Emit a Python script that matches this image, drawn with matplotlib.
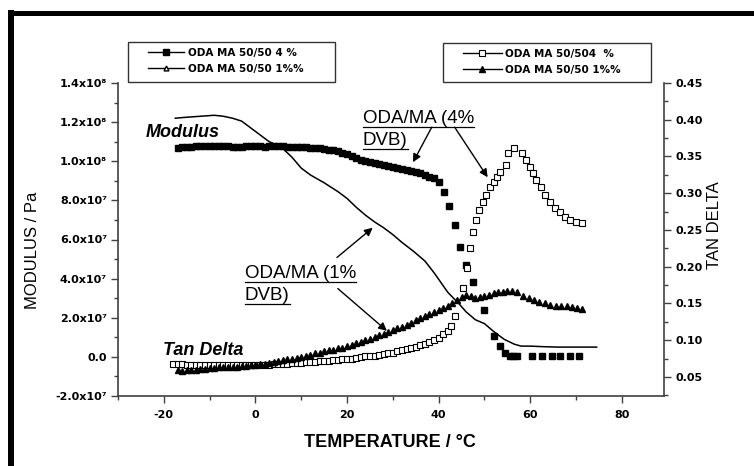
import matplotlib
matplotlib.use("Agg")
import matplotlib.pyplot as plt
from matplotlib.lines import Line2D
from matplotlib.patches import Rectangle
from matplotlib.ticker import MultipleLocator
import numpy as np

# ---- data (temperature in degC) ----
# storage modulus, 4% DVB (filled squares), values in units of 1e7 Pa
mod4_T = [-17, -16, -15, -14, -13, -12, -11, -10, -9, -8, -7, -6, -5, -4, -3, -2, -1,
          0, 1, 2, 3, 4, 5, 6, 7, 8, 9, 10, 11, 12, 13, 14, 15, 16, 17, 18, 19, 20,
          21, 22, 23, 24, 25, 26, 27, 28, 29, 30, 31, 32, 33, 34, 35, 36, 37, 38, 39, 40,
          41.1, 42.2, 43.6, 44.7, 46.0, 47.5, 49.9, 52.1, 53.4, 54.5, 55.5, 56.3, 57.0,
          60.3, 62.5, 64.7, 66.5, 68.7, 70.6]
mod4_M = [10.70, 10.72, 10.74, 10.75, 10.76, 10.78, 10.80, 10.80, 10.78, 10.77, 10.76,
          10.76, 10.75, 10.74, 10.74, 10.76, 10.78, 10.77, 10.76, 10.75, 10.76, 10.78,
          10.77, 10.76, 10.74, 10.74, 10.73, 10.73, 10.72, 10.70, 10.69, 10.67, 10.65,
          10.60, 10.55, 10.50, 10.44, 10.37, 10.28, 10.18, 10.08, 10.00, 9.95, 9.90,
          9.85, 9.80, 9.75, 9.70, 9.65, 9.60, 9.55, 9.50, 9.45, 9.38, 9.30, 9.22, 9.12,
          8.92, 8.41, 7.69, 6.72, 5.64, 4.72, 3.85, 2.41, 1.08, 0.56, 0.21, 0.05, 0.05,
          0.05, 0.05, 0.05, 0.05, 0.05, 0.05, 0.05]

# storage modulus, 1% DVB (solid line), units of 1e7 Pa
mod1_T = [-17.5, -15, -12, -9, -7, -5, -3, -1, 1, 3, 5, 6, 8, 10, 12, 15, 18, 20, 22,
          24, 26, 28, 30, 32, 34.5, 37, 39, 42, 44.5, 46, 48, 50, 52, 54.3, 56.5, 58,
          60, 63, 66, 70, 74.5]
mod1_M = [12.2, 12.25, 12.3, 12.35, 12.3, 12.2, 12.05, 11.7, 11.35, 11.0, 10.8, 10.65,
          10.2, 9.65, 9.3, 8.9, 8.45, 8.1, 7.65, 7.25, 6.9, 6.6, 6.25, 5.85, 5.4, 4.9,
          4.3, 3.3, 2.7, 2.3, 1.9, 1.7, 1.3, 0.9, 0.65, 0.55, 0.55, 0.52, 0.5, 0.5, 0.5]

# tan delta, 4% DVB (open squares)
tan4_T = [-18, -17, -16, -15, -14, -13, -12, -11, -10, -9, -8, -7, -6, -5, -4, -3, -2,
          -1, 0, 1, 2, 3, 4, 5, 6, 7, 8, 9, 10, 11, 12, 13, 14, 15, 16, 17, 18, 19, 20,
          21, 22, 23, 24, 25, 26, 27, 28, 29, 30, 31, 32, 33, 34, 35, 36, 37, 38, 39, 40,
          41, 42, 42.8, 43.5, 45.3, 46.2, 46.8, 47.5, 48.2, 48.8, 49.7, 50.3, 51.2, 52.0,
          52.7, 53.5, 54.6, 55.1, 56.4, 58.2, 59.0, 60.0, 60.6, 61.3, 62.3, 63.2, 64.3,
          65.4, 66.5, 67.6, 68.7, 70.0, 71.4]
tan4_D = [0.067, 0.067, 0.067, 0.066, 0.066, 0.066, 0.066, 0.066, 0.066, 0.066, 0.066,
          0.066, 0.066, 0.066, 0.066, 0.066, 0.066, 0.066, 0.066, 0.066, 0.066, 0.066,
          0.067, 0.067, 0.068, 0.068, 0.069, 0.069, 0.069, 0.070, 0.070, 0.070, 0.071,
          0.072, 0.072, 0.073, 0.073, 0.074, 0.074, 0.075, 0.076, 0.077, 0.078, 0.078,
          0.079, 0.080, 0.081, 0.082, 0.083, 0.085, 0.086, 0.088, 0.089, 0.091, 0.093,
          0.095, 0.097, 0.100, 0.103, 0.108, 0.113, 0.119, 0.133, 0.171, 0.198, 0.226,
          0.247, 0.264, 0.277, 0.288, 0.298, 0.309, 0.315, 0.322, 0.329, 0.339, 0.355,
          0.362, 0.355, 0.345, 0.336, 0.328, 0.318, 0.309, 0.298, 0.288, 0.280, 0.275,
          0.268, 0.264, 0.261, 0.260]

# tan delta, 1% DVB (filled triangles)
tan1_T = [-17, -16, -15, -14, -13, -12, -11, -10, -9, -8, -7, -6, -5, -4, -3, -2, -1,
          0, 1, 2, 3, 4, 5, 6, 7, 8, 9, 10, 11, 12, 13, 14, 15, 16, 17, 18, 19, 20, 21,
          22, 23, 24, 25, 26, 27, 28, 29, 30, 31, 32, 33, 34, 35, 36, 37, 38, 39, 40, 41,
          42, 43, 44, 45, 46, 47, 48, 49, 50, 51, 52, 53, 54, 55, 56, 57,
          58.5, 59.7, 60.8, 62.0, 63.2, 64.4, 65.6, 66.8, 68.0, 69.2, 70.3, 71.4]
tan1_D = [0.059, 0.058, 0.059, 0.060, 0.060, 0.061, 0.061, 0.062, 0.062, 0.063, 0.063,
          0.064, 0.064, 0.064, 0.065, 0.065, 0.066, 0.066, 0.067, 0.068, 0.069, 0.070,
          0.071, 0.073, 0.074, 0.075, 0.076, 0.077, 0.079, 0.080, 0.082, 0.083, 0.085,
          0.086, 0.087, 0.089, 0.090, 0.092, 0.094, 0.096, 0.098, 0.100, 0.102, 0.104,
          0.107, 0.109, 0.111, 0.114, 0.116, 0.118, 0.121, 0.124, 0.127, 0.130, 0.133,
          0.136, 0.138, 0.141, 0.144, 0.147, 0.151, 0.155, 0.159, 0.162, 0.160, 0.158,
          0.159, 0.160, 0.162, 0.164, 0.165, 0.166, 0.167, 0.167, 0.165,
          0.160, 0.157, 0.154, 0.152, 0.150, 0.148, 0.147, 0.146, 0.146, 0.145, 0.144,
          0.142]

x_ticks = [-20, 0, 20, 40, 60, 80]
mod_ticks = [-2e7, 0, 2e7, 4e7, 6e7, 8e7, 1.0e8, 1.2e8, 1.4e8]
mod_tick_labels = ["-2.0x10⁷", "0.0", "2.0x10⁷", "4.0x10⁷", "6.0x10⁷", "8.0x10⁷",
                   "1.0x10⁸", "1.2x10⁸", "1.4x10⁸"]
tan_ticks = [0.05, 0.10, 0.15, 0.20, 0.25, 0.30, 0.35, 0.40, 0.45]

legend_left = ["ODA MA 50/50 4 %", "ODA MA 50/50 1%%"]
legend_right = ["ODA MA 50/504  %", "ODA MA 50/50 1%%"]

# ---- figure ----
W, H = 754, 466
fig = plt.figure(figsize=(W / 100, H / 100), dpi=100)
fx = lambda px: px / W          # pixel -> figure fraction
fy = lambda py: 1 - py / H

ax = fig.add_axes([fx(118), fy(396), (664 - 118) / W, (396 - 83) / H])
ax2 = ax.twinx()
SPINE = "#404040"

ax.plot(mod4_T, np.array(mod4_M) * 1e7, ls="none", marker="s", ms=4.5,
        color="black")
ax.plot(mod1_T, np.array(mod1_M) * 1e7, "-", color="black", lw=1.1)
ax2.plot(tan4_T, tan4_D, ls="none", marker="s", ms=4, mfc="white", mec="black",
         mew=0.8)
ax2.plot(tan1_T, tan1_D, ls="none", marker="^", ms=5, color="black")

ax.set_xlim(-30, 89.2)
ax.set_ylim(-2e7, 1.4e8)
ax2.set_ylim(0.024, 0.45)

ax.set_xticks(x_ticks, labels=[str(v) for v in x_ticks], fontweight="bold")
ax.set_yticks(mod_ticks, labels=mod_tick_labels, fontweight="bold")
ax2.set_yticks(tan_ticks, labels=[f"{v:.2f}" for v in tan_ticks], fontweight="bold")
ax.xaxis.set_minor_locator(MultipleLocator(10))
ax.yaxis.set_minor_locator(MultipleLocator(1e7))
ax2.yaxis.set_minor_locator(MultipleLocator(0.025))

for a in (ax, ax2):
    a.tick_params(which="major", direction="out", length=5, width=1, color=SPINE,
                  labelsize=8)
    a.tick_params(which="minor", direction="out", length=3, width=1, color=SPINE)
    for s in a.spines.values():
        s.set_color(SPINE)
        s.set_linewidth(1.2)
ax.tick_params(axis="x", pad=5)
ax.tick_params(axis="y", pad=3)
ax2.tick_params(axis="y", pad=3)
ax.spines["top"].set_visible(False)
ax.spines["right"].set_visible(False)
for k in ("top", "left", "bottom"):
    ax2.spines[k].set_visible(False)

ax.set_ylabel("MODULUS / Pa", family="Liberation Sans", fontsize=12, va="center")
ax.yaxis.set_label_coords(-0.156, 0.466)
ax2.set_ylabel("TAN DELTA", family="Liberation Sans", fontsize=12, rotation=90,
               va="center")
ax2.yaxis.set_label_coords(1.093, 0.546)
ax.set_xlabel("TEMPERATURE / °C", family="Liberation Sans", fontsize=13,
              fontweight="bold", va="center")
ax.xaxis.set_label_coords(0.498, -0.147)

# ---- annotations ----
ax.text(-23.9, 1.123e8, "Modulus", family="Liberation Sans", fontsize=13,
        fontweight="bold", fontstyle="italic", va="baseline")
ax.text(-20.2, 0.1e7, "Tan Delta", family="Liberation Sans", fontsize=13,
        fontweight="bold", fontstyle="italic", va="baseline")

note_kw = dict(family="Liberation Sans", fontsize=13.5, va="baseline", ha="left")
notes = [ax.text(23.45, 1.195e8, "ODA/MA (4%", **note_kw),
         ax.text(23.45, 1.082e8, "DVB)", **note_kw),
         ax.text(-2.3, 4.05e7, "ODA/MA (1%", **note_kw),
         ax.text(-2.3, 2.92e7, "DVB)", **note_kw)]

arrow_kw = dict(arrowstyle="-|>", lw=1, color="black", mutation_scale=12,
                shrinkA=0, shrinkB=0)
for (x0, y0), (x1, y1) in [((38.5, 1.174e8), (34.4, 0.995e8)),
                           ((43.5, 1.174e8), (50.7, 0.918e8)),
                           ((17.8, 5.08e7), (25.6, 6.6e7)),
                           ((18.0, 3.49e7), (28.7, 1.33e7))]:
    ax.annotate("", xy=(x1, y1), xytext=(x0, y0), arrowprops=arrow_kw)

# ---- legends (Origin style, boxed) ----
prop = dict(family="DejaVu Sans", weight="bold", size=7.5)
h1 = Line2D([], [], color="black", lw=1, marker="s", ms=4.5)
h2 = Line2D([], [], color="black", lw=1, marker="^", ms=3.5, mfc="white")
h3 = Line2D([], [], color="black", lw=1, marker="s", ms=4, mfc="white", mew=0.8)
h4 = Line2D([], [], color="black", lw=1, marker="^", ms=5)
leg_kw = dict(loc="upper left", frameon=False, borderpad=0, borderaxespad=0,
              handletextpad=0.3, labelspacing=0.55, prop=prop)
fig.legend([h1, h2], legend_left, bbox_to_anchor=(fx(148), fy(48)),
           handlelength=3.5, **leg_kw)
fig.legend([h3, h4], legend_right, bbox_to_anchor=(fx(463), fy(49)),
           handlelength=3.7, **leg_kw)
for x0, x1, y0, y1 in [(128, 335, 42, 82), (443, 651, 43, 82)]:
    fig.add_artist(Rectangle((fx(x0), fy(y1)), (x1 - x0) / W, (y1 - y0) / H,
                             transform=fig.transFigure, fill=False, lw=1,
                             ec="#333333"))

# outer frame (thick top and left edges)
fig.add_artist(Line2D([fx(11), 1], [fy(12.5), fy(12.5)], lw=3.6, color="black",
                      transform=fig.transFigure))
fig.add_artist(Line2D([fx(11), fx(11)], [fy(12.5), 0], lw=4.3, color="black",
                      transform=fig.transFigure, solid_capstyle="projecting"))

# underline the annotation texts
fig.canvas.draw()
for t in notes:
    bb = t.get_window_extent()
    yb = ax.transData.transform(t.get_position())[1] - 4
    fig.add_artist(Line2D([bb.x0 / W, bb.x1 / W], [yb / H, yb / H], lw=0.9,
                          color="black", transform=fig.transFigure))

fig.savefig("out.png", dpi=100)
